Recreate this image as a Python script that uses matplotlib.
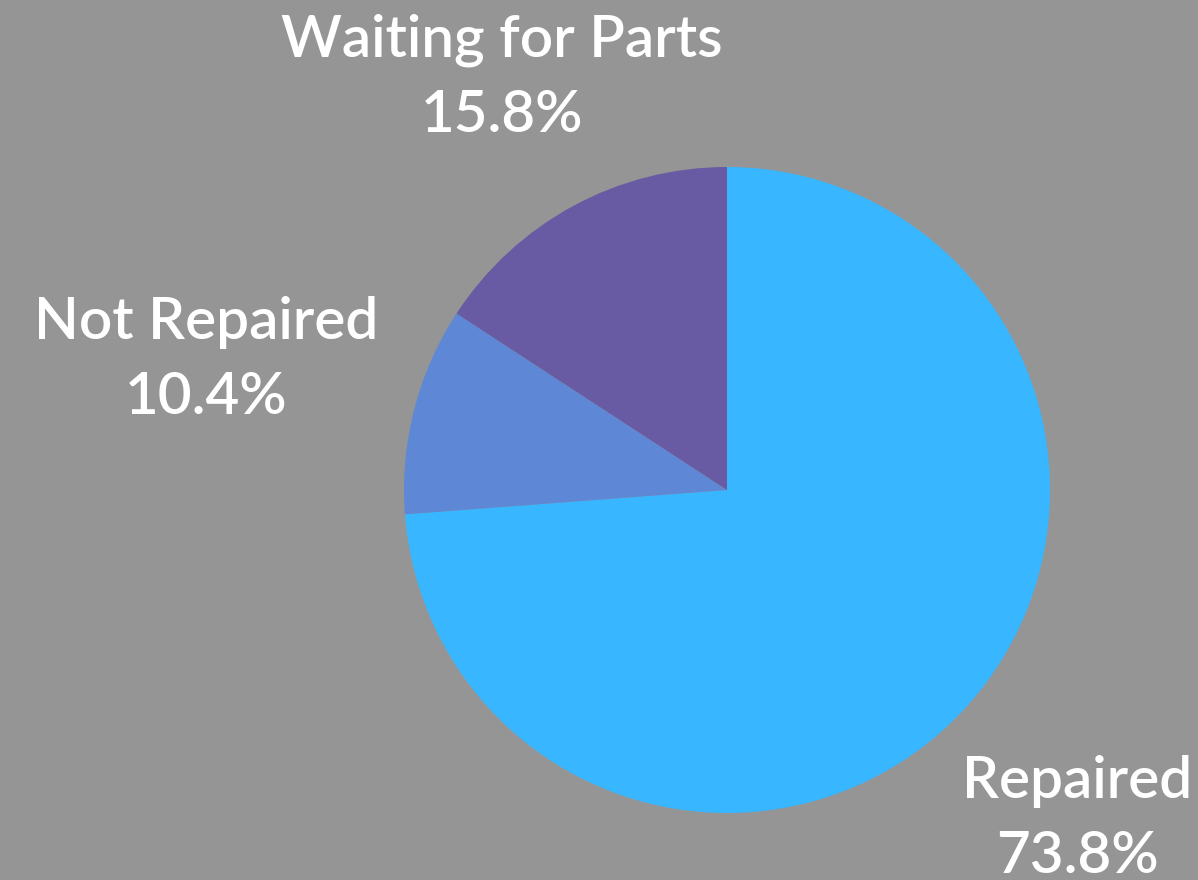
import matplotlib.pyplot as plt

labels = ["Repaired", "Not Repaired", "Waiting for Parts"]
shares = [73.8, 10.4, 15.8]
colors = ["#38b6ff", "#5e88d6", "#685ba3"]

# label anchor points (data coords, pie radius = 1)
label_pos = [(1.084, -1.019), (-1.613, 0.402), (-0.697, 1.276)]

bg = "#959595"

fig = plt.figure(figsize=(11.98, 8.8), dpi=100)
fig.patch.set_facecolor(bg)

ax = fig.add_axes([404 / 1198, 67 / 880, 646 / 1198, 646 / 880])
ax.set_facecolor(bg)

ax.pie(shares, colors=colors, startangle=90, counterclock=False,
       radius=1.0, wedgeprops=dict(linewidth=0))

for name, val, (x, y) in zip(labels, shares, label_pos):
    ax.text(x, y, f"{name}\n{val:.1f}%", ha="center", va="center",
            fontsize=42, color="white", family="Lato", fontweight="semibold",
            linespacing=1.5, clip_on=False)

ax.set_xlim(-1, 1)
ax.set_ylim(-1, 1)
ax.set_aspect("equal")
ax.axis("off")

fig.savefig("out.png", dpi=100, facecolor=bg)
